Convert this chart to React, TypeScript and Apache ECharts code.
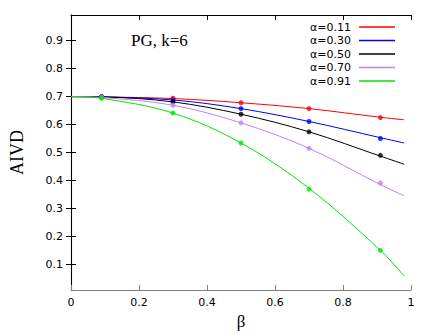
import React, { useEffect, useRef } from "react";
import * as echarts from "echarts";

const alphaNames = ["α=0.11", "α=0.30", "α=0.50", "α=0.70", "α=0.91"];
const colors = ["#ff0000", "#0000ff", "#000000", "#c080ff", "#00e600"];

// measured points (β)
const markerBeta = [0.09, 0.3, 0.5, 0.7, 0.91];
const markerA011 = [0.7, 0.694, 0.678, 0.657, 0.625];
const markerA030 = [0.7, 0.688, 0.657, 0.611, 0.55];
const markerA050 = [0.699, 0.681, 0.637, 0.574, 0.49];
const markerA070 = [0.699, 0.669, 0.606, 0.515, 0.391];
const markerA091 = [0.694, 0.641, 0.534, 0.369, 0.15];

// fitted curves
const fitBeta = [0, 0.09, 0.3, 0.5, 0.7, 0.91, 0.98];
const fitA011 = [0.7, 0.699, 0.693, 0.678, 0.657, 0.626, 0.617];
const fitA030 = [0.7, 0.699, 0.688, 0.657, 0.611, 0.553, 0.534];
const fitA050 = [0.7, 0.699, 0.681, 0.637, 0.574, 0.487, 0.458];
const fitA070 = [0.7, 0.697, 0.669, 0.606, 0.515, 0.385, 0.345];
const fitA091 = [0.7, 0.694, 0.641, 0.534, 0.372, 0.15, 0.058];

const yTicks = [0.1, 0.2, 0.3, 0.4, 0.5, 0.6, 0.7, 0.8, 0.9];
const title = "PG, k=6";

const markers = [markerA011, markerA030, markerA050, markerA070, markerA091];
const fits = [fitA011, fitA030, fitA050, fitA070, fitA091];

export default function App() {
  const ref = useRef<HTMLDivElement>(null);
  useEffect(() => {
    if (!ref.current) return;
    const chart = echarts.init(ref.current, null, { renderer: "svg" });
    const tickFont = { fontFamily: "DejaVu Sans", fontSize: 11, color: "#000" };
    const series: any[] = [];
    fits.forEach((f, i) => {
      series.push({
        name: alphaNames[i],
        type: "line",
        data: fitBeta.map((b, j) => [b, f[j]]),
        smooth: 0.35,
        symbol: "none",
        color: colors[i],
        lineStyle: { color: colors[i], width: 1 },
        itemStyle: { color: colors[i] },
        z: 2,
      });
    });
    markers.forEach((m, i) => {
      series.push({
        name: "pts" + i,
        type: "scatter",
        data: markerBeta.map((b, j) => [b, m[j]]),
        symbol: "circle",
        symbolSize: 5,
        itemStyle: { color: colors[i] },
        z: 3,
      });
    });
    chart.setOption({
      animation: false,
      grid: { left: 66, right: 25, top: 15, bottom: 43, containLabel: false },
      legend: {
        data: alphaNames.map((n, i) => ({
          name: n,
          icon: "rect",
          itemStyle: { color: colors[i], borderColor: colors[i], borderWidth: 0 },
        })),
        orient: "vertical",
        right: 36,
        top: 16.5,
        align: "right",
        itemWidth: 36,
        itemHeight: 1.5,
        itemGap: 2.5,
        textStyle: { ...tickFont, padding: [0, 3, 0, 0] },
      },
      xAxis: [
        {
          type: "value",
          min: 0,
          max: 1,
          interval: 0.2,
          position: "bottom",
          name: "β",
          nameLocation: "middle",
          nameGap: 23,
          nameTextStyle: { fontFamily: "Liberation Serif", fontSize: 17, color: "#000" },
          axisLine: { lineStyle: { color: "#808080", width: 1.2 } },
          axisTick: { inside: true, length: 5, lineStyle: { color: "#808080" } },
          axisLabel: { ...tickFont, margin: 7, formatter: (v: number) => (v === 0 || v === 1 ? String(v) : v.toFixed(1)) },
          splitLine: { show: false },
        },
        {
          type: "value",
          min: 0,
          max: 1,
          interval: 0.2,
          position: "top",
          axisLine: { lineStyle: { color: "#000", width: 1 } },
          axisTick: { inside: true, length: 5, lineStyle: { color: "#000" } },
          axisLabel: { show: false },
          splitLine: { show: false },
        },
      ],
      yAxis: [
        {
          type: "value",
          min: 0.008,
          max: 0.992,
          position: "left",
          name: "AIVD",
          nameLocation: "middle",
          nameRotate: 90,
          nameGap: 45,
          nameTextStyle: { fontFamily: "Liberation Serif", fontSize: 18, color: "#000" },
          axisLine: { show: true, lineStyle: { color: "#808080", width: 1.2 } },
          axisTick: { show: true, inside: true, length: 5, customValues: yTicks, lineStyle: { color: "#000" } },
          axisLabel: { ...tickFont, margin: 8, customValues: yTicks, formatter: (v: number) => v.toFixed(1) },
          splitLine: { show: false },
        },
        {
          type: "value",
          min: 0.008,
          max: 0.992,
          position: "right",
          axisLine: { show: true, lineStyle: { color: "#000", width: 1 } },
          axisTick: { show: true, inside: true, length: 5, customValues: yTicks, lineStyle: { color: "#000" } },
          axisLabel: { show: false },
          splitLine: { show: false },
        },
      ],
      graphic: [
        {
          type: "text",
          x: 131,
          y: 40,
          style: {
            text: title,
            fontFamily: "Liberation Serif",
            fontSize: 17,
            fill: "#000",
            textVerticalAlign: "middle",
          },
        },
      ],
      series,
    });
    return () => chart.dispose();
  }, []);
  return (
    <div
      ref={ref}
      style={{ position: "fixed", left: 0, top: 0, width: 436, height: 335, background: "#fff" }}
    />
  );
}
